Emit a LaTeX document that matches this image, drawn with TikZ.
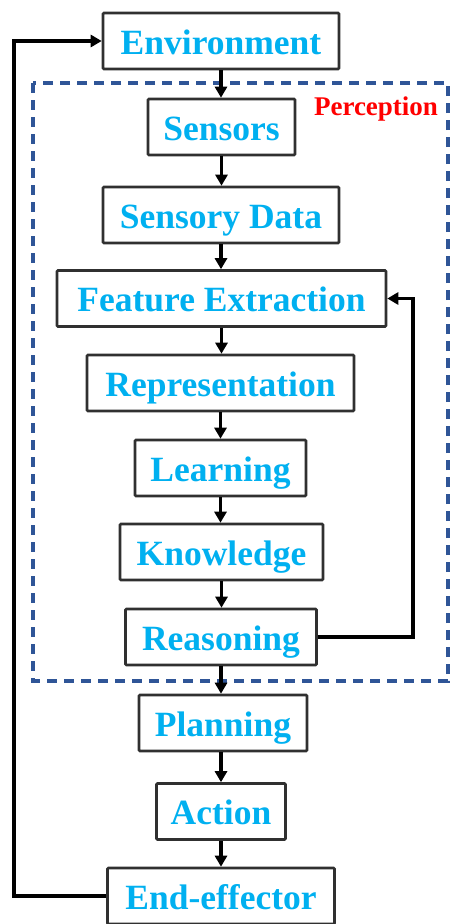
\documentclass[tikz,border=0pt]{standalone}
\usepackage{fontspec}
\setmainfont{Liberation Serif}
\usetikzlibrary{arrows.meta}
\definecolor{txtblue}{HTML}{00B0F0}
\definecolor{dashblue}{HTML}{2F5597}
\definecolor{boxgray}{HTML}{303030}
\tikzset{
  blk/.style={draw=boxgray, line width=2.6pt, fill=white, rounded corners=1pt,
    minimum height=56pt, inner sep=0pt, text=txtblue,
    font=\fontsize{35.5}{40}\selectfont\bfseries,
    text height=29pt, text depth=3pt},
  conn/.style={line width=3.4pt, -{Triangle[length=11pt,width=12pt]}},
  loopline/.style={line width=3.6pt, -{Triangle[length=11pt,width=12pt]}}
}
\begin{document}
\begin{tikzpicture}[x=1pt,y=-1pt]
\useasboundingbox (0,0) rectangle (451,924);
% perception frame
\draw[dashblue, line width=3.2pt, dash pattern=on 10pt off 7pt] (33,83) rectangle (448,681);
\node[text=red, font=\fontsize{27}{30}\selectfont\bfseries, anchor=base] (perc) at (376,115) {Perception};
% blocks
\node[blk, minimum width=236pt] (env) at (221,41) {Environment};
\node[blk, minimum width=147pt] (sen) at (221.5,127) {Sensors};
\node[blk, minimum width=236pt] (sd) at (221,215) {Sensory Data};
\node[blk, minimum width=329pt] (fe) at (221.5,298.5) {Feature Extraction};
\node[blk, minimum width=267pt] (rep) at (220.5,383) {Representation};
\node[blk, minimum width=171pt] (lea) at (220.5,468) {Learning};
\node[blk, minimum width=203pt] (kno) at (221.5,552) {Knowledge};
\node[blk, minimum width=191pt] (rea) at (221,637) {Reasoning};
\node[blk, minimum width=168pt] (pla) at (223,723) {Planning};
\node[blk, minimum width=129pt] (act) at (221,811.5) {Action};
\node[blk, minimum width=227pt] (ee) at (221,896) {End-effector};
% vertical connectors
\draw[conn] (env.south) -- (env.south |- sen.north);
\draw[conn] (sen.south) -- (sen.south |- sd.north);
\draw[conn] (sd.south) -- (sd.south |- fe.north);
\draw[conn] (fe.south) -- (fe.south |- rep.north);
\draw[conn] (rep.south) -- (rep.south |- lea.north);
\draw[conn] (lea.south) -- (lea.south |- kno.north);
\draw[conn] (kno.south) -- (kno.south |- rea.north);
\draw[conn] (rea.south) -- (rea.south |- pla.north);
\draw[conn] (pla.south -| act.north) -- (act.north);
\draw[conn] (act.south) -- (act.south |- ee.north);
% feedback loops
\coordinate (fbr) at (413,637);
\draw[loopline] (rea.east) -- (fbr) |- (fe.east);
\coordinate (fbl) at (14,896);
\draw[loopline] (ee.west) -- (fbl) |- (env.west);
\end{tikzpicture}
\end{document}
